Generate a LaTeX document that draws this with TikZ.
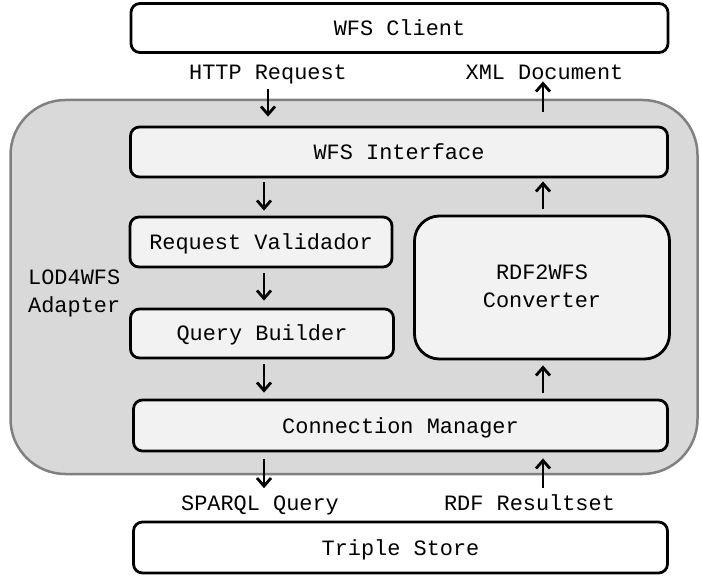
\documentclass[tikz,border=0pt]{standalone}
\usepackage{fontspec}
\setmonofont{Liberation Mono}
\usetikzlibrary{arrows.meta}
\definecolor{boxgray}{HTML}{F2F2F2}
\definecolor{outergray}{HTML}{D9D9D9}
\definecolor{outerline}{HTML}{808080}
\begin{document}
\begin{tikzpicture}[x=1pt,y=-1pt,
  txt/.style={font=\ttfamily\fontsize{21.9}{28}\selectfont},
  boxbase/.style={txt, draw=black, line width=2.8pt, rounded corners=9pt, fill=boxgray, inner sep=0pt},
  box/.style={boxbase, text height=18pt, text depth=3pt},
  endbox/.style={box, fill=white},
  lbl/.style={txt, inner sep=0pt, anchor=base},
  arr/.style={line width=2.8pt, -{Straight Barb[length=8pt,width=14pt]}}]
\useasboundingbox (0,0) rectangle (702,577);
% outer adapter
\node[draw=outerline, line width=2.5pt, fill=outergray, rounded corners=55pt,
      minimum width=687pt, minimum height=374pt, inner sep=0pt] (adapter) at (354,287) {};
\node[lbl, anchor=base west] (adl1) at (28,285) {LOD4WFS};
\node[lbl, anchor=base west] (adl2) at (28,313) {Adapter};
% boxes
\node[endbox, minimum width=537pt, minimum height=49pt] (client) at (399.5,28) {WFS Client};
\node[box, minimum width=537pt, minimum height=50pt] (iface) at (399,152) {WFS Interface};
\node[box, minimum width=262pt, minimum height=50pt] (valid) at (261,242) {Request Validador};
\node[box, minimum width=263pt, minimum height=49pt] (query) at (262,333.5) {Query Builder};
\node[box, minimum width=534pt, minimum height=51pt] (conn) at (400.5,425.5) {Connection Manager};
\node[boxbase, rounded corners=25pt, minimum width=255pt, minimum height=143pt] (conv) at (542,287.5) {\raisebox{-3pt}{\begin{tabular}{@{}c@{}}RDF2WFS\\Converter\end{tabular}}};
\node[endbox, minimum width=534pt, minimum height=51pt] (store) at (400.5,547.5) {Triple Store};
% labels
\node[lbl] (http) at (268,80) {HTTP Request};
\node[lbl] (xml) at (544.5,80) {XML Document};
\node[lbl] (sparql) at (260,510) {SPARQL Query};
\node[lbl] (rdf) at (529.5,510) {RDF Resultset};
% columns
\coordinate (L) at (264,0);
\coordinate (R) at (543,0);
\coordinate (H) at (268,0);
% arrows
\draw[arr, shorten <=4pt, shorten >=9pt] (H |- http.south) -- (H |- iface.north);
\draw[arr, shorten <=4pt, shorten >=5pt] (L |- iface.south) -- (L |- valid.north);
\draw[arr, shorten <=5pt, shorten >=7pt] (L |- valid.south) -- (L |- query.north);
\draw[arr, shorten <=5pt, shorten >=6pt] (L |- query.south) -- (L |- conn.north);
\draw[arr, shorten <=7pt, shorten >=7pt] (L |- conn.south) -- (L |- sparql.north);
\draw[arr, shorten <=6pt, shorten >=6pt] (R |- rdf.north) -- (R |- conn.south);
\draw[arr, shorten <=6pt, shorten >=5pt] (R |- conn.north) -- (R |- conv.south);
\draw[arr, shorten <=6pt, shorten >=3pt] (R |- conv.north) -- (R |- iface.south);
\draw[arr, shorten <=14pt, shorten >=1pt] (R |- iface.north) -- (R |- xml.south);
\end{tikzpicture}
\end{document}
